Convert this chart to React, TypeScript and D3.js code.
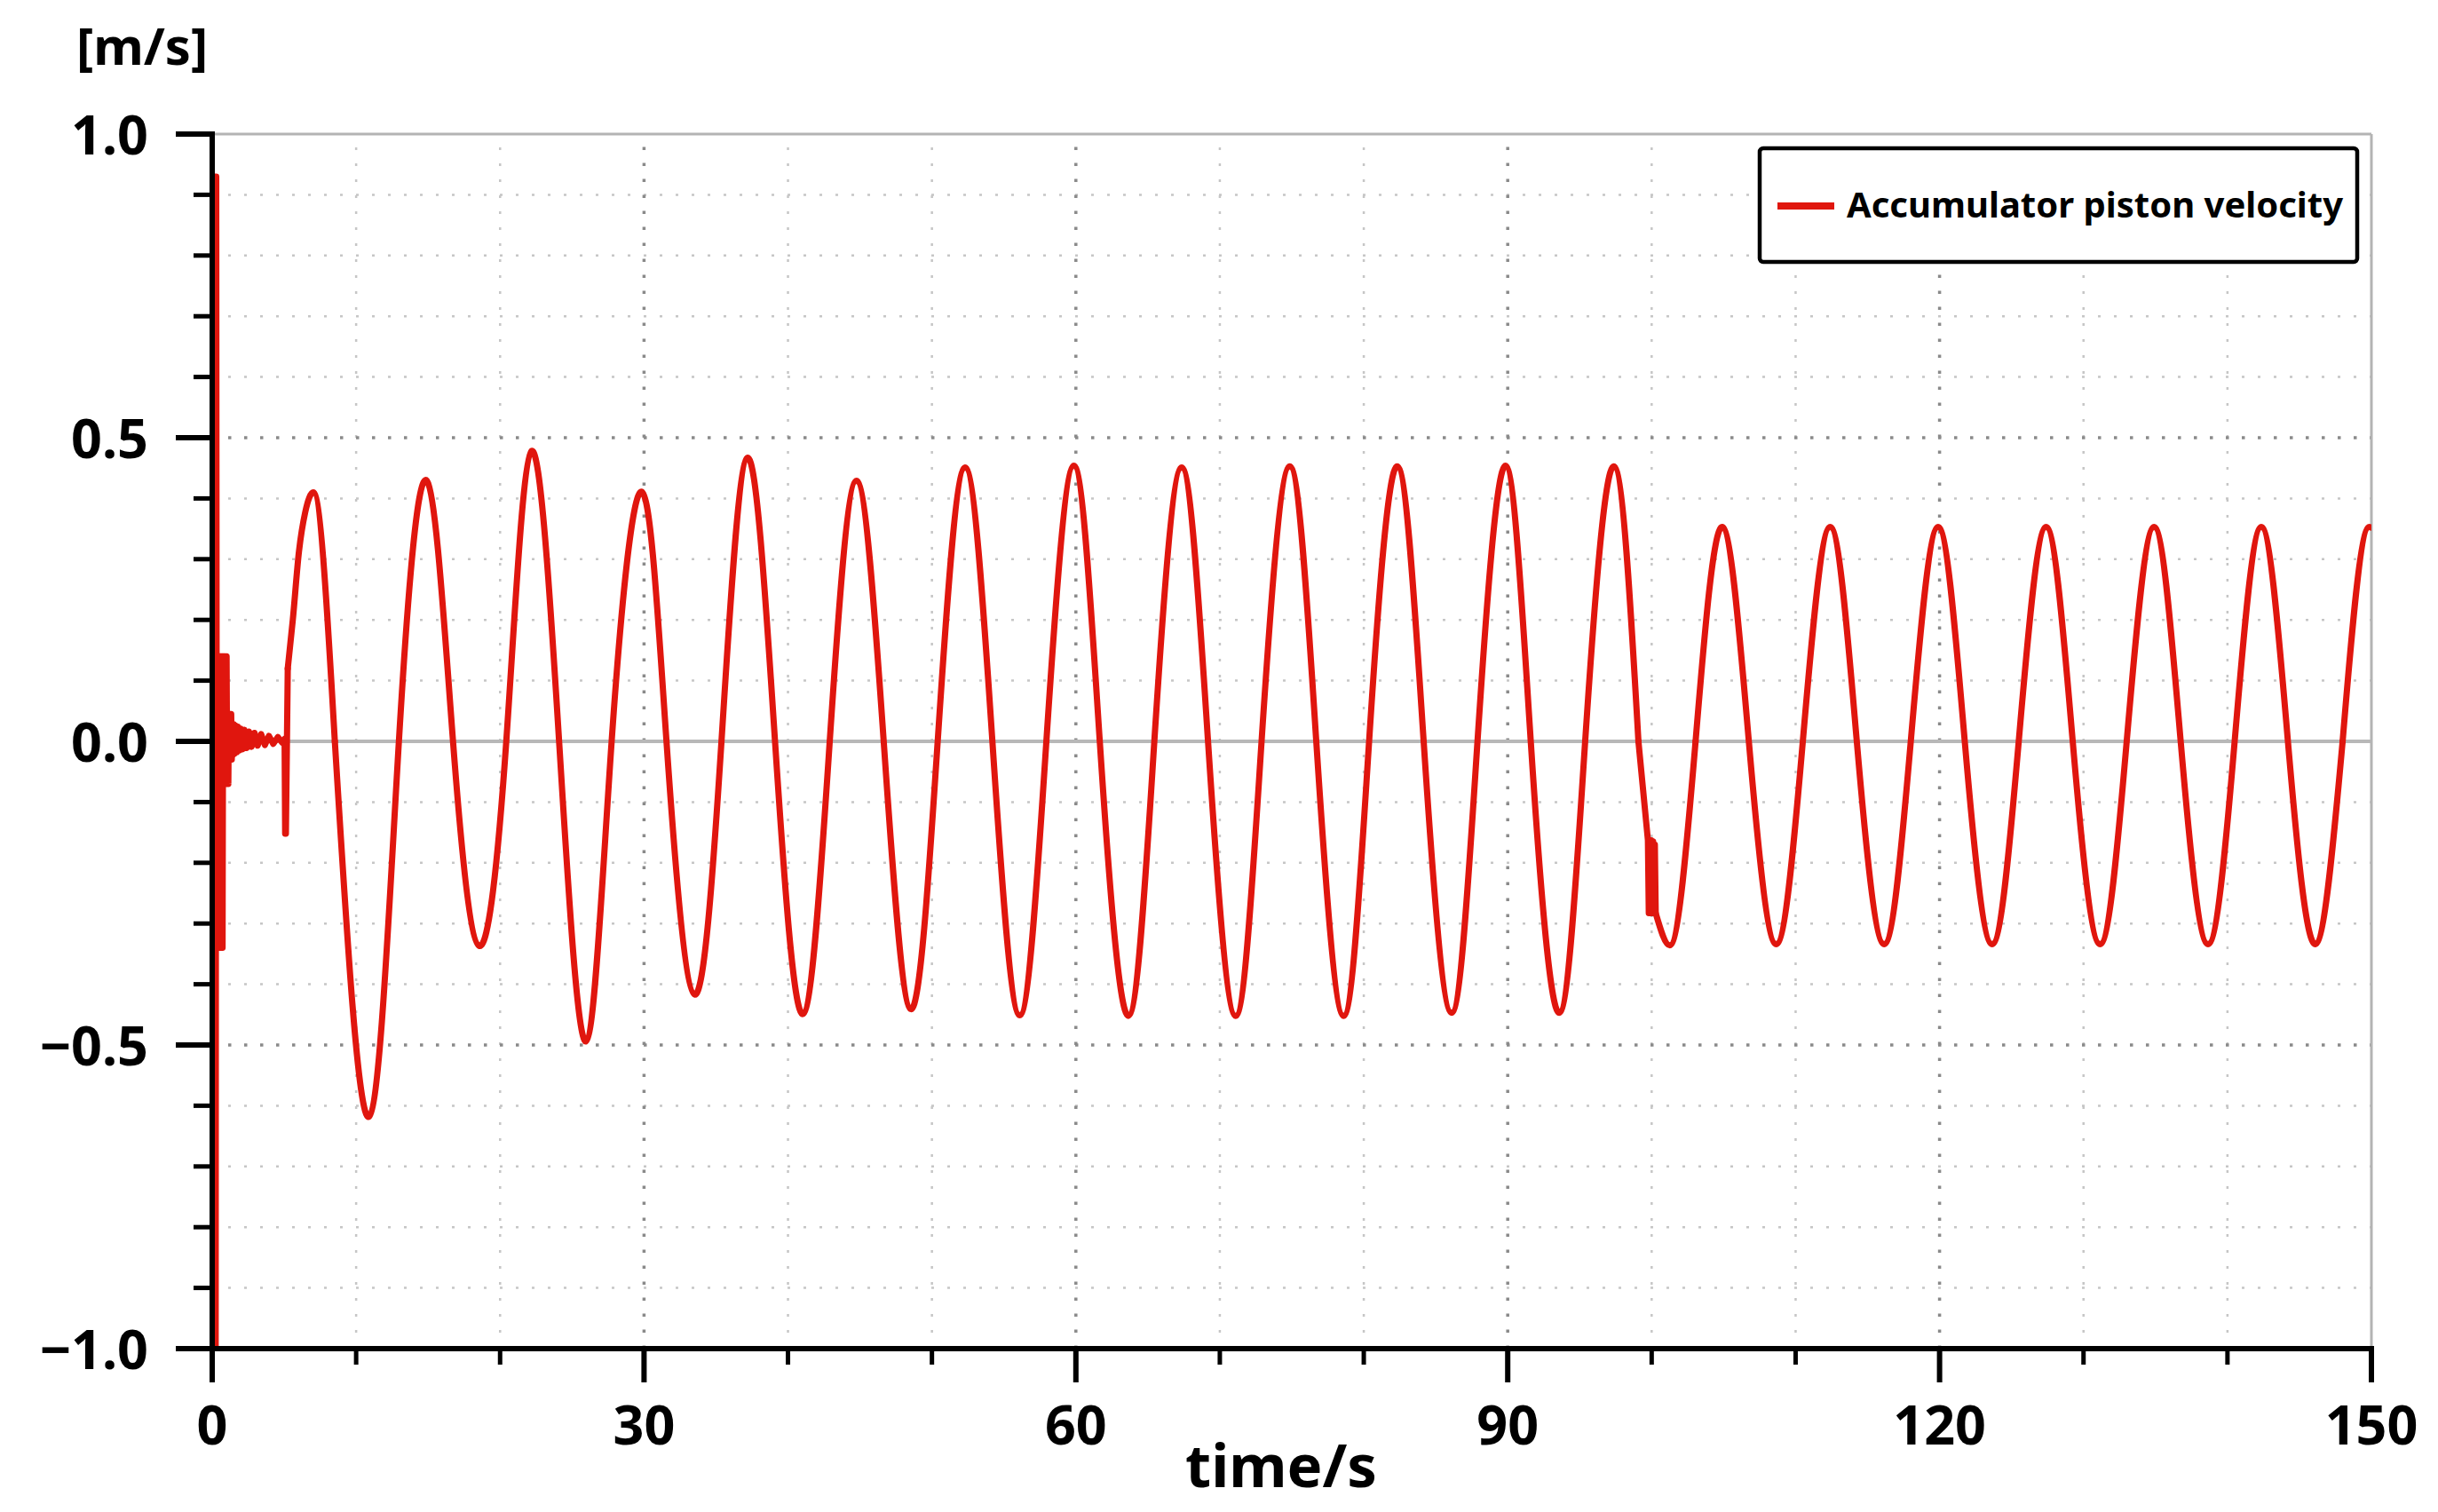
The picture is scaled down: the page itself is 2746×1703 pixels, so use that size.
import React from "react";
import * as d3 from "d3";

const W = 2746;
const H = 1703;

// start-up transient (dense oscillation)
const startupTime = [0, 0.08, 0.12, 0.16, 0.2, 0.24, 0.28, 0.32, 0.36, 0.4, 0.44, 0.48, 0.52, 0.56, 0.6, 0.64, 0.68, 0.72, 0.76, 0.8, 0.84, 0.88, 0.92, 0.96, 1.0, 1.04, 1.08, 1.12, 1.16, 1.2, 1.24, 1.28, 1.32, 1.36, 1.4, 1.45, 1.5, 1.56, 1.62, 1.7, 1.78, 1.88, 1.98, 2.1, 2.24, 2.4, 2.56, 2.74, 2.94, 3.16, 3.4, 3.66, 3.94, 4.24, 4.56, 4.86, 5.03, 5.07, 5.12, 5.25];
const startupVelocity = [0, -1.0, 0.93, -1.0, 0.93, -1.0, 0.93, -0.34, 0.14, -0.34, 0.14, -0.34, 0.14, -0.34, 0.14, -0.34, 0.14, -0.34, 0.14, -0.07, 0.14, -0.07, 0.14, -0.07, 0.14, -0.07, 0.045, -0.07, 0.045, -0.03, 0.045, -0.03, 0.045, -0.03, 0.028, -0.022, 0.028, -0.02, 0.026, -0.018, 0.024, -0.015, 0.021, -0.013, 0.019, -0.011, 0.016, -0.009, 0.014, -0.007, 0.012, -0.006, 0.009, -0.004, 0.007, -0.002, 0.004, -0.152, -0.152, 0.12];

// first rise after the start-up jump
const riseTime = [5.25, 5.6, 6.03, 6.46, 7.03, 8.52];
const riseVelocity = [0.12, 0.2, 0.313, 0.377, 0.41, 0];

// first oscillation regime (zero crossings and extrema)
const wave1Time = [8.52, 10.9, 12.97, 14.92, 16.73, 18.57, 20.43, 22.18, 24.1, 25.97, 27.75, 29.84, 31.56, 33.52, 35.38, 37.2, 39.1, 41.03, 42.9, 44.76, 46.65, 48.55, 50.4, 52.3, 54.2, 56.1, 57.95, 59.86, 61.66, 63.64, 65.45, 67.35, 69.18, 71.1, 72.9, 74.86, 76.7, 78.6, 80.37, 82.32, 84.16, 86.1, 87.9, 89.84, 91.6, 93.57, 95.38, 97.36, 99.08];
const wave1Velocity = [0, -0.618, 0, 0.429, 0, -0.337, 0, 0.478, 0, -0.494, 0, 0.411, 0, -0.417, 0, 0.467, 0, -0.449, 0, 0.429, 0, -0.441, 0, 0.451, 0, -0.451, 0, 0.454, 0, -0.452, 0, 0.451, 0, -0.452, 0, 0.453, 0, -0.452, 0, 0.453, 0, -0.447, 0, 0.454, 0, -0.447, 0, 0.453, 0];

// switching transient near t = 100 s
const stepTime = [99.08, 99.74, 99.8, 99.86, 99.92, 99.98, 100.04, 100.1, 100.16, 100.22, 100.28];
const stepVelocity = [0, -0.163, -0.283, -0.163, -0.283, -0.163, -0.283, -0.165, -0.283, -0.17, -0.283];

const settleTime = [100.28, 101.26, 103.05];
const settleVelocity = [-0.283, -0.336, 0];

// second oscillation regime
const wave2Time = [103.05, 104.9, 106.75, 108.65, 110.5, 112.4, 114.25, 116.15, 118.0, 119.9, 121.75, 123.65, 125.5, 127.4, 129.25, 131.15, 133.0, 134.9, 136.75, 138.65, 140.5, 142.35, 144.2, 146.1, 148.0];
const wave2Velocity = [0, 0.353, 0, -0.334, 0, 0.353, 0, -0.334, 0, 0.353, 0, -0.334, 0, 0.353, 0, -0.334, 0, 0.353, 0, -0.334, 0, 0.353, 0, -0.334, 0];

const tailTime = [148.0, 149.85, 150];
const tailVelocity = [0, 0.353, 0.352];

const xMajorTicks = [0, 30, 60, 90, 120, 150];
const xMinorTicks = [10, 20, 40, 50, 70, 80, 100, 110, 130, 140];
const yMajorTicks = [-1, -0.5, 0, 0.5, 1];
const yMajorLabels = ["\u22121.0", "\u22120.5", "0.0", "0.5", "1.0"];
const yMinorTicks = [-0.9, -0.8, -0.7, -0.6, -0.4, -0.3, -0.2, -0.1, 0.1, 0.2, 0.3, 0.4, 0.6, 0.7, 0.8, 0.9];
const xGridMajor = [30, 60, 90, 120];
const yGridMajor = [-0.5, 0.5];

const seriesName = "Accumulator piston velocity";
const xTitle = "time/s";
const yTitle = "[m/s]";

const RED = "#e0160e";
const FONT = "'Noto Sans', 'Open Sans', sans-serif";

const zip = (t: number[], v: number[]) => t.map((tt, i) => [tt, v[i]] as [number, number]);

export default function App() {
  const left = 239, right = 2671, top = 151, bottom = 1519;
  const x = d3.scaleLinear().domain([0, 150]).range([left, right]);
  const y = d3.scaleLinear().domain([-1, 1]).range([bottom, top]);

  const mk = (curve: d3.CurveFactory) =>
    d3.line<[number, number]>().x(d => x(d[0])).y(d => y(d[1])).curve(curve);
  const linear = mk(d3.curveLinear);
  const smooth = mk(d3.curveNatural);
  const mono = mk(d3.curveMonotoneX);

  const paths = [
    linear(zip(startupTime, startupVelocity)),
    mono(zip(riseTime, riseVelocity)),
    smooth(zip(wave1Time, wave1Velocity)),
    linear(zip(stepTime, stepVelocity)),
    mono(zip(settleTime, settleVelocity)),
    smooth(zip(wave2Time, wave2Velocity)),
    mono(zip(tailTime, tailVelocity)),
  ];

  const axisW = 6;

  return (
    <svg width={W} height={H} viewBox={`0 0 ${W} ${H}`} style={{ position: "absolute", left: 0, top: 0, background: "#fff" }}>
      <defs>
        <clipPath id="plotClip">
          <rect x={left} y={top} width={right - left} height={bottom - top} />
        </clipPath>
      </defs>
      <rect x={0} y={0} width={W} height={H} fill="#fff" />

      {/* minor grid */}
      {xMinorTicks.map(t => (
        <line key={"gxm" + t} x1={x(t)} x2={x(t)} y1={bottom} y2={top} stroke="#c6c6c6" strokeWidth={2.5} strokeDasharray="3 15" />
      ))}
      {yMinorTicks.map(v => (
        <line key={"gym" + v} x1={left} x2={right} y1={y(v)} y2={y(v)} stroke="#c6c6c6" strokeWidth={2.5} strokeDasharray="3 15" />
      ))}
      {/* major grid */}
      {xGridMajor.map(t => (
        <line key={"gxM" + t} x1={x(t)} x2={x(t)} y1={bottom} y2={top} stroke="#8a8a8a" strokeWidth={3.5} strokeDasharray="3.5 14.5" />
      ))}
      {yGridMajor.map(v => (
        <line key={"gyM" + v} x1={left} x2={right} y1={y(v)} y2={y(v)} stroke="#8a8a8a" strokeWidth={3.5} strokeDasharray="3.5 14.5" />
      ))}
      {/* zero line */}
      <line x1={left} x2={right} y1={y(0)} y2={y(0)} stroke="#b8b8b8" strokeWidth={4} />

      {/* top / right frame */}
      <line x1={left} x2={right} y1={top} y2={top} stroke="#b4b4b4" strokeWidth={3} />
      <line x1={right} x2={right} y1={top} y2={bottom} stroke="#b4b4b4" strokeWidth={3} />

      {/* curve */}
      <g clipPath="url(#plotClip)">
        {paths.map((d, i) => (
          <path key={i} d={d || ""} fill="none" stroke={RED} strokeWidth={7} strokeLinejoin="round" strokeLinecap="round" />
        ))}
      </g>

      {/* axes */}
      <line x1={left} x2={left} y1={top - 3} y2={bottom} stroke="#000" strokeWidth={axisW} />
      <line x1={left} x2={right + 3} y1={bottom} y2={bottom} stroke="#000" strokeWidth={axisW} />
      {yMajorTicks.map(v => (
        <line key={"ytM" + v} x1={left - 41} x2={left} y1={y(v)} y2={y(v)} stroke="#000" strokeWidth={axisW} />
      ))}
      {yMinorTicks.map(v => (
        <line key={"ytm" + v} x1={left - 21} x2={left} y1={y(v)} y2={y(v)} stroke="#000" strokeWidth={5} />
      ))}
      {xMajorTicks.map(t => (
        <line key={"xtM" + t} x1={x(t)} x2={x(t)} y1={bottom} y2={bottom + 38} stroke="#000" strokeWidth={axisW} />
      ))}
      {xMinorTicks.map(t => (
        <line key={"xtm" + t} x1={x(t)} x2={x(t)} y1={bottom} y2={bottom + 18} stroke="#000" strokeWidth={5} />
      ))}

      {/* tick labels */}
      {yMajorTicks.map((v, i) => (
        <text key={"yl" + v} x={167} y={y(v) + 23} textAnchor="end" fontFamily={FONT} fontWeight={700} fontSize={61} fill="#000">
          {yMajorLabels[i]}
        </text>
      ))}
      {xMajorTicks.map(t => (
        <text key={"xl" + t} x={x(t)} y={1627} textAnchor="middle" fontFamily={FONT} fontWeight={700} fontSize={61} fill="#000">
          {String(t)}
        </text>
      ))}

      {/* titles */}
      <text x={1443} y={1675} textAnchor="middle" fontFamily={FONT} fontWeight={700} fontSize={67} fill="#000">{xTitle}</text>
      <text x={86} y={73} fontFamily={FONT} fontWeight={700} fontSize={58} fill="#000">{yTitle}</text>

      {/* legend */}
      <rect x={1982} y={167} width={673} height={128} rx={4} fill="#fff" stroke="#000" strokeWidth={4.5} />
      <line x1={2002} x2={2066} y1={232} y2={232} stroke={RED} strokeWidth={8} />
      <text x={2080} y={245} fontFamily={FONT} fontWeight={700} fontSize={40} fill="#000">{seriesName}</text>
    </svg>
  );
}
